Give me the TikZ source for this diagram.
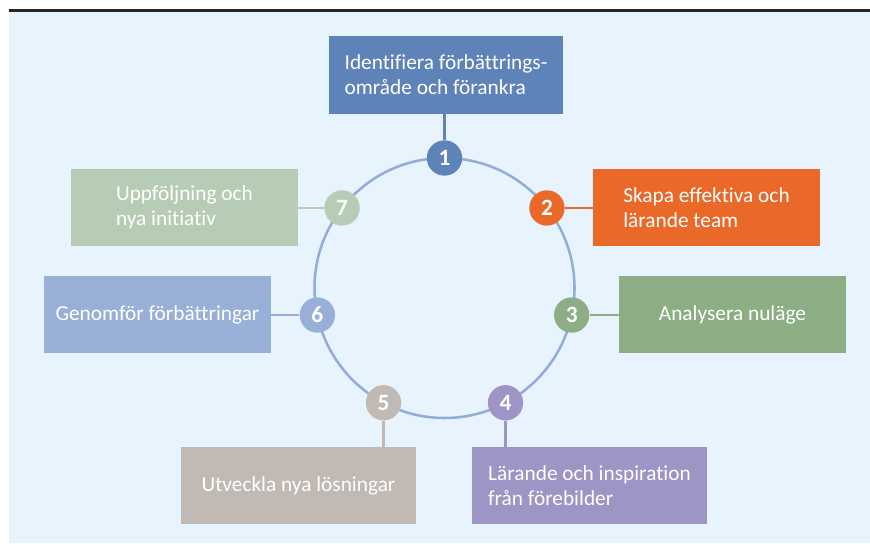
\documentclass[tikz,border=0pt]{standalone}
\usepackage{fontspec}
\setmainfont{Carlito}[Ligatures=NoCommon]
\usepackage{tikz}
\usetikzlibrary{calc,backgrounds}
\usetikzlibrary{positioning}
\usepackage{xcolor}
\definecolor{bgblue}{HTML}{E8F4FD}
\definecolor{ringblue}{HTML}{93ADD9}
\definecolor{stepA}{HTML}{5E83B9}
\definecolor{stepB}{HTML}{EA6828}
\definecolor{stepC}{HTML}{8DAE84}
\definecolor{stepD}{HTML}{9C95C5}
\definecolor{stepE}{HTML}{C1B9B3}
\definecolor{stepF}{HTML}{98B0D8}
\definecolor{stepG}{HTML}{B7CCB4}
\newcommand{\boxfont}{\fontsize{16}{18.8}\selectfont}
\newcommand{\numfont}{\fontsize{17.5}{17.5}\selectfont\bfseries}
\tikzstyle{cycle}=[
  x=0.75pt,y=-0.75pt
]
\tikzstyle{stepnode}=[
  circle,inner sep=0pt,minimum size=26.5pt,text=white,font=\numfont
]
\tikzstyle{stepbox}=[
  inner sep=0pt,minimum width=170pt,minimum height=58pt,text=white,align=left,font=\boxfont
]
\tikzstyle{widebox}=[
  stepbox,minimum width=176pt
]
\tikzstyle{ring}=[
  line width=1.9pt,ringblue
]
\tikzstyle{link}=[
  line width=1.9pt
]
\begin{document}
\begin{tikzpicture}[cycle]
  \useasboundingbox (0,0) rectangle (870,543);
  \coordinate (c) at (444.5,288);
  % steps on the ring
  \node (n1) at ($(c) + (-90:130)$) [stepnode,fill=stepA] {1};
  \node (n2) at ($(c) + (-38:130)$) [stepnode,fill=stepB] {2};
  \node (n3) at ($(c) + (12:130)$) [stepnode,fill=stepC] {3};
  \node (n4) at ($(c) + (62:130)$) [stepnode,fill=stepD] {4};
  \node (n5) at ($(c) + (118:130)$) [stepnode,fill=stepE] {5};
  \node (n6) at ($(c) + (168:130)$) [stepnode,fill=stepF] {6};
  \node (n7) at ($(c) + (218:130)$) [stepnode,fill=stepG] {7};
  % boxes
  \node (b1) at (446,75) [widebox,fill=stepA] {Identifiera förbättrings-\\område och förankra};
  \node (b2) at (706.5,207.5) [stepbox,fill=stepB] {Skapa effektiva och\\lärande team};
  \node (b3) at (732.5,314.5) [stepbox,fill=stepC] {Analysera nuläge};
  \node (b4) at (589.5,485.5) [widebox,fill=stepD] {Lärande och inspiration\\från förebilder};
  \node (b5) at (298.5,485.5) [widebox,fill=stepE] {Utveckla nya lösningar};
  \node (b6) at (157.5,314.5) [stepbox,fill=stepF] {Genomför förbättringar};
  \node (b7) at (184.5,207.5) [stepbox,fill=stepG] {Uppföljning och\\nya initiativ};
  \begin{scope}[on background layer]
    \fill [bgblue] (9,12) rectangle (870,543);
    \draw [line width=1.6pt,black!85] (9,10.5) -- (870,10.5);
    \draw [ring] (c) circle [radius=130];
    \draw [link,stepA] (n1) -- (n1 |- b1.south);
    \draw [link,stepB] (n2) -- (b2.west |- n2);
    \draw [link,stepC] (n3) -- (b3.west |- n3);
    \draw [link,stepD] (n4) -- (n4 |- b4.north);
    \draw [link,stepE] (n5) -- (n5 |- b5.north);
    \draw [link,stepF] (n6) -- (b6.east |- n6);
    \draw [link,stepG] (n7) -- (b7.east |- n7);
  \end{scope}
\end{tikzpicture}
\end{document}
